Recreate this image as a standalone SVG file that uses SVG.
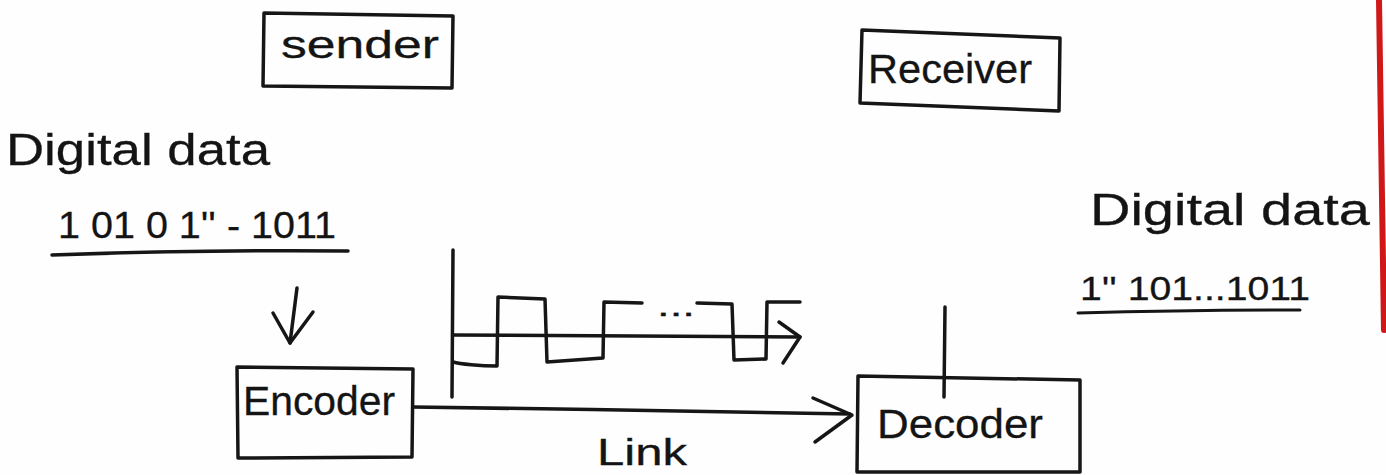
<svg xmlns="http://www.w3.org/2000/svg" width="1386" height="475" viewBox="0 0 1386 475">
  <style>
    .ink { fill: none; stroke: #161616; stroke-width: 3.5; stroke-linecap: round; stroke-linejoin: round; }
    .thin { stroke-width: 3; }
    .hand { font-family: "Liberation Sans", "DejaVu Sans", sans-serif; fill: #141414; stroke: #141414; stroke-width: 0.3; }
    .margin { fill: none; stroke: #d01818; stroke-width: 6; stroke-linecap: round; }
  </style>

  <rect x="0" y="0" width="1386" height="475" fill="#fefefe"/>

  <!-- red margin line on the right edge of the page -->
  <path class="margin" d="M1379,0 C1381,80 1382,180 1384,330"/>

  <!-- sender side -->
  <g id="sender">
    <path class="ink" d="M264,13 L453,16 L452,88 L263,86 Z"/>
    <text class="hand" x="281" y="58" font-size="38" textLength="158" lengthAdjust="spacingAndGlyphs">sender</text>
  </g>

  <g id="sender-data">
    <text class="hand" x="6" y="165" font-size="44" textLength="264" lengthAdjust="spacingAndGlyphs">Digital data</text>
    <text class="hand" x="58" y="238" font-size="36" textLength="278" lengthAdjust="spacingAndGlyphs">1 01 0 1'' - 1011</text>
    <path class="ink" d="M52,255 C140,252 250,250 348,251"/>
  </g>

  <g id="encoder">
    <path class="ink" d="M237,367 L413,369 L412,457 L238,458 Z"/>
    <text class="hand" x="243" y="415" font-size="40" textLength="152" lengthAdjust="spacingAndGlyphs">Encoder</text>
  </g>

  <!-- receiver side -->
  <g id="receiver">
    <path class="ink" d="M862,30 L1060,38 L1059,111 L860,103 Z"/>
    <text class="hand" x="868" y="83" font-size="40" textLength="164" lengthAdjust="spacingAndGlyphs">Receiver</text>
  </g>

  <g id="receiver-data">
    <text class="hand" x="1090" y="225" font-size="44" textLength="280" lengthAdjust="spacingAndGlyphs">Digital data</text>
    <text class="hand" x="1080" y="300" font-size="34" textLength="230" lengthAdjust="spacingAndGlyphs">1'' 101...1011</text>
    <path class="ink thin" d="M1078,313 C1150,311 1230,310 1300,310"/>
  </g>

  <g id="decoder">
    <path class="ink" d="M858,376 L1080,380 L1080,472 L857,472 Z"/>
    <text class="hand" x="877" y="438" font-size="40" textLength="166" lengthAdjust="spacingAndGlyphs">Decoder</text>
  </g>

  <!-- encoded signal plot -->
  <g id="signal">
    <path class="ink" d="M453,250 L452,397"/>
    <path class="ink" d="M453,335 L800,337"/>
    <path class="ink" d="M779,322 L800,337 L783,363"/>
    <path class="ink" d="M453,362 C460,364 480,366 497,366 L498,297 L545,299 L547,362 L603,358 L604,302 L642,303"/>
    <path class="ink" d="M697,303 L732,304 L734,360 L766,359 L767,302 L800,302"/>
    <text class="hand" x="657" y="316" font-size="30" textLength="38" lengthAdjust="spacingAndGlyphs">...</text>
  </g>

  <!-- connectors -->
  <g id="connectors">
    <path class="ink" d="M297,288 L290,343"/>
    <path class="ink" d="M273,313 L290,343 L313,312"/>
    <path class="ink" d="M413,407 C560,409 700,411 850,414"/>
    <path class="ink" d="M813,398 L852,415 L815,442"/>
    <path class="ink" d="M945,307 L944,397"/>
    <text class="hand" x="597" y="465" font-size="36" textLength="90" lengthAdjust="spacingAndGlyphs">Link</text>
  </g>
</svg>
